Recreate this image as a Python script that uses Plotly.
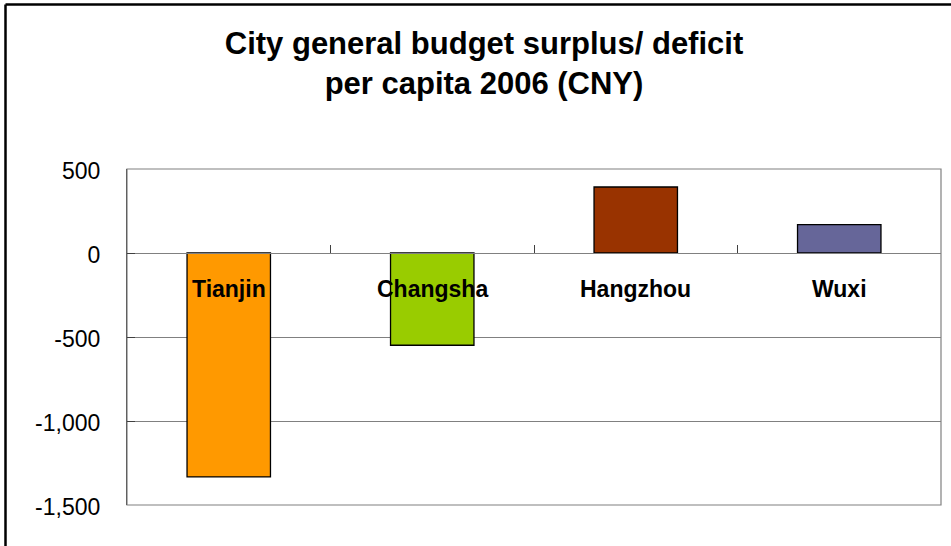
import plotly.graph_objects as go

cities = ["Tianjin", "Changsha", "Hangzhou", "Wuxi"]
values = [-1333, -549, 393, 169]
colors = ["#FF9900", "#99CC00", "#993300", "#666699"]
y_tickvals = [500, 0, -500, -1000, -1500]
y_ticktext = ["500", "0", "-500", "-1,000", "-1,500"]
title_text = "City general budget surplus/ deficit<br>per capita 2006 (CNY)"

W, H = 951, 546
ML, MR, MT, MB = 127, 10, 169, 41
PW, PH = W - ML - MR, H - MT - MB
ymin, ymax = -1500, 500

FONT = "Liberation Sans, Arial, sans-serif"

fig = go.Figure()
fig.add_trace(go.Bar(
    x=cities, y=values,
    marker=dict(color=colors, line=dict(color="#000000", width=1.3)),
    width=0.41,
    showlegend=False,
    hoverinfo="skip",
))

for c in cities:
    fig.add_annotation(
        x=c, y=0, xref="x", yref="y",
        text="<b>%s</b>" % c, showarrow=False,
        yanchor="middle", yshift=-36,
        font=dict(family=FONT, size=23, color="#000000"),
    )

# plot-area frame
fig.add_shape(type="rect", xref="paper", yref="paper", x0=0, x1=1, y0=0, y1=1,
              line=dict(color="#808080", width=1.2), layer="below")
# outer chart frame (left and top edges; right/bottom lie outside the picture)
fx0 = (5.5 - ML) / PW
fy1 = (H - 4.5 - MB) / PH
fig.add_shape(type="line", xref="paper", yref="paper",
              x0=fx0, x1=fx0, y0=-0.5, y1=fy1,
              line=dict(color="#000000", width=2.5), layer="above")
fig.add_shape(type="line", xref="paper", yref="paper",
              x0=fx0, x1=1.2, y0=fy1, y1=fy1,
              line=dict(color="#000000", width=2.5), layer="above")

fig.update_layout(
    width=W, height=H,
    margin=dict(l=ML, r=MR, t=MT, b=MB, pad=0),
    paper_bgcolor="#FFFFFF", plot_bgcolor="#FFFFFF",
    bargap=0.59,
    title=dict(
        text="<b>%s</b>" % title_text,
        x=484 / W, xanchor="center", xref="container",
        y=1 - 54 / H, yanchor="top", yref="container",
        font=dict(family=FONT, size=31, color="#000000"),
    ),
    font=dict(family=FONT, color="#000000"),
    xaxis=dict(
        type="category",
        anchor="free", position=(0 - ymin) / (ymax - ymin),
        showline=True, linecolor="#808080", linewidth=1.2,
        ticks="inside", tickson="boundaries", ticklen=8, tickcolor="#404040", tickwidth=1,
        showticklabels=False, showgrid=False, zeroline=False,
    ),
    yaxis=dict(
        range=[ymin, ymax],
        tickvals=y_tickvals, ticktext=y_ticktext,
        showline=True, linecolor="#606060", linewidth=1.2,
        ticks="inside", ticklen=8, tickcolor="#404040", tickwidth=1,
        ticklabelstandoff=21, ticklabelshift=2,
        showgrid=True, gridcolor="#808080", gridwidth=1,
        zeroline=False,
        tickfont=dict(family=FONT, size=23, color="#000000"),
    ),
)

fig.write_html("out.html", config={"displayModeBar": False},
               post_script="document.body.style.margin='0';")
